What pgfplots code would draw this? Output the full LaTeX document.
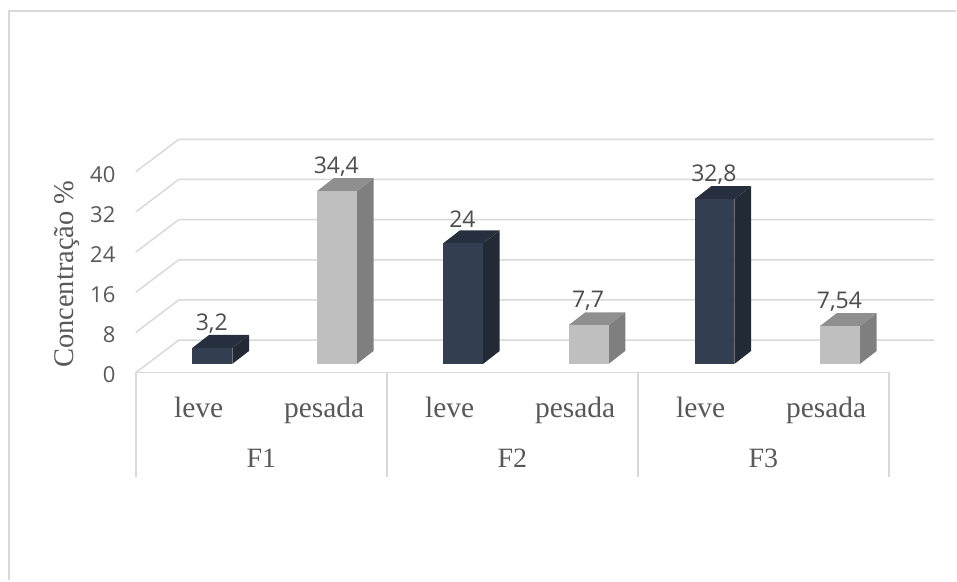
\documentclass[border=0pt]{standalone}
\usepackage{pgfplots}
\pgfplotsset{compat=1.18}
\usepackage{fontspec}
\setmainfont{Liberation Serif}
\newfontfamily\numfont{Open Sans}

\definecolor{gridgray}{HTML}{D9D9D9}
\definecolor{textgray}{HTML}{595959}
\definecolor{navyfront}{HTML}{333F50}
\definecolor{navytop}{HTML}{252F3D}
\definecolor{navyside}{HTML}{222A35}
\definecolor{greyfront}{HTML}{BFBFBF}
\definecolor{greytop}{HTML}{8F8F8F}
\definecolor{greyside}{HTML}{7F7F7F}

% bar geometry in axis units
\def\bw{0.318}   % front width
\def\bdx{0.133}  % depth, horizontal part
\def\bdy{2.58}   % depth, vertical part
\def\bbase{1.73} % floor level of the bar's front edge

% \threedbar{left x}{value}{label}{colour prefix}
\newcommand{\threedbar}[4]{
  \addplot[draw=none,fill=#4side] coordinates {({#1+\bw},{\bbase}) ({#1+\bw+\bdx},{\bbase+\bdy}) ({#1+\bw+\bdx},{\bbase+#2+\bdy}) ({#1+\bw},{\bbase+#2})};
  \addplot[draw=none,fill=#4top] coordinates {({#1},{\bbase+#2}) ({#1+\bw},{\bbase+#2}) ({#1+\bw+\bdx},{\bbase+#2+\bdy}) ({#1+\bdx},{\bbase+#2+\bdy})};
  \addplot[draw=none,fill=#4front] coordinates {({#1},{\bbase}) ({#1+\bw},{\bbase}) ({#1+\bw},{\bbase+#2}) ({#1},{\bbase+#2})};
  \node[font=\numfont\fontsize{23}{23}\selectfont,text=textgray!85!black,anchor=center] at (axis cs:{#1+\bw/2-0.005},{\bbase+#2+4.8}) {#3};
}

\begin{document}
\begin{tikzpicture}[x=1pt,y=1pt]
\begin{axis}[
  at={(0,0)},anchor=south west,
  width=754pt,height=201.1pt,scale only axis,
  xmin=0,xmax=6,ymin=0,ymax=40,
  clip=false,
  axis line style={draw=none},
  major tick length=0pt,
  ytick={0,8,16,24,32,40},
  yticklabel style={font=\numfont\fontsize{22}{22}\selectfont,text=textgray,xshift=-17pt,yshift=-2.5pt},
  /pgf/number format/assume math mode=true,
  xtick={0.5,1.5,2.5,3.5,4.5,5.5},
  xticklabels={leve,pesada,leve,pesada,leve,pesada},
  xticklabel style={font=\fontsize{29.5}{29.5}\selectfont,text=textgray,text height=20pt,text depth=7pt,yshift=-21pt},
  ylabel={Concentração \%},
  ylabel style={font=\fontsize{28.5}{28.5}\selectfont,text=textgray,at={(axis description cs:0,0.49)},anchor=south,yshift=53pt},
]
  % floor and back wall gridlines
  \pgfplotsinvokeforeach{0,8,16,24,32,40}{
    \addplot[gridgray,line width=1.5pt] coordinates {(0,#1) (0.342,{#1+6.46}) (6.358,{#1+6.46})};
  }
  % category axis with group separators
  \addplot[gridgray,line width=1.5pt] coordinates {(0,-20.7) (0,0) (6,0) (6,-20.7)};
  \addplot[gridgray,line width=1.5pt] coordinates {(2,0) (2,-20.7)};
  \addplot[gridgray,line width=1.5pt] coordinates {(4,0) (4,-20.7)};

  \threedbar{0.451}{3.2}{3,2}{navy}
  \threedbar{1.443}{34.4}{34,4}{grey}
  \threedbar{2.448}{24}{24}{navy}
  \threedbar{3.448}{7.7}{7,7}{grey}
  \threedbar{4.451}{32.8}{32,8}{navy}
  \threedbar{5.451}{7.54}{7,54}{grey}

  % group names
  \node[font=\fontsize{28}{28}\selectfont,text=textgray] at (axis cs:1,-17.1) {F1};
  \node[font=\fontsize{28}{28}\selectfont,text=textgray] at (axis cs:3,-17.1) {F2};
  \node[font=\fontsize{28}{28}\selectfont,text=textgray] at (axis cs:5,-17.1) {F3};
\end{axis}
% chart area outline and page extent
\draw[gridgray,line width=2.2pt] (-126.7pt,-208pt) -- (-126.7pt,361.6pt) -- (821pt,361.6pt);
\useasboundingbox (-136pt,-208pt) rectangle (821pt,373pt);
\end{tikzpicture}
\end{document}
